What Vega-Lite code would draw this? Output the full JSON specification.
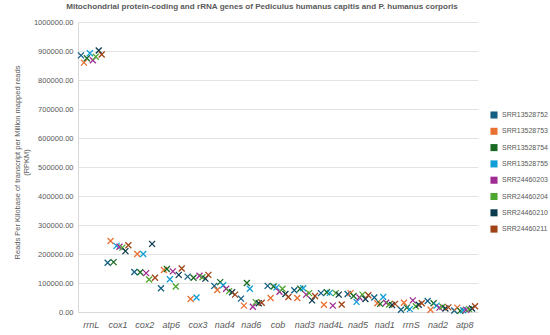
{
  "$schema": "https://vega.github.io/schema/vega-lite/v6.json",
  "autosize": "none",
  "width": 400,
  "height": 290,
  "padding": {"left": 78, "top": 22, "right": 72, "bottom": 23},
  "background": "white",
  "title": {
    "text": "Mitochondrial protein-coding and rRNA genes of Pediculus humanus capitis and P. humanus corporis",
    "font": "Liberation Sans",
    "fontSize": 8.1,
    "fontWeight": "bold",
    "color": "#595959",
    "anchor": "middle",
    "dx": -16,
    "offset": 7
  },
  "config": {
    "view": {"stroke": null},
    "font": "Liberation Sans"
  },
  "data": {
    "values": [
      {"gene": "rrnL", "series": "SRR13528752", "rpkm": 885000},
      {"gene": "rrnL", "series": "SRR13528753", "rpkm": 860000},
      {"gene": "rrnL", "series": "SRR13528754", "rpkm": 875000},
      {"gene": "rrnL", "series": "SRR13528755", "rpkm": 892000},
      {"gene": "rrnL", "series": "SRR24460203", "rpkm": 868000},
      {"gene": "rrnL", "series": "SRR24460204", "rpkm": 880000},
      {"gene": "rrnL", "series": "SRR24460210", "rpkm": 902000},
      {"gene": "rrnL", "series": "SRR24460211", "rpkm": 888000},
      {"gene": "cox1", "series": "SRR13528752", "rpkm": 170000},
      {"gene": "cox1", "series": "SRR13528753", "rpkm": 245000},
      {"gene": "cox1", "series": "SRR13528754", "rpkm": 172000},
      {"gene": "cox1", "series": "SRR13528755", "rpkm": 228000},
      {"gene": "cox1", "series": "SRR24460203", "rpkm": 225000},
      {"gene": "cox1", "series": "SRR24460204", "rpkm": 222000},
      {"gene": "cox1", "series": "SRR24460210", "rpkm": 210000},
      {"gene": "cox1", "series": "SRR24460211", "rpkm": 230000},
      {"gene": "cox2", "series": "SRR13528752", "rpkm": 138000},
      {"gene": "cox2", "series": "SRR13528753", "rpkm": 200000},
      {"gene": "cox2", "series": "SRR13528754", "rpkm": 137000},
      {"gene": "cox2", "series": "SRR13528755", "rpkm": 200000},
      {"gene": "cox2", "series": "SRR24460203", "rpkm": 134000},
      {"gene": "cox2", "series": "SRR24460204", "rpkm": 112000},
      {"gene": "cox2", "series": "SRR24460210", "rpkm": 235000},
      {"gene": "cox2", "series": "SRR24460211", "rpkm": 118000},
      {"gene": "atp6", "series": "SRR13528752", "rpkm": 82000},
      {"gene": "atp6", "series": "SRR13528753", "rpkm": 145000},
      {"gene": "atp6", "series": "SRR13528754", "rpkm": 148000},
      {"gene": "atp6", "series": "SRR13528755", "rpkm": 113000},
      {"gene": "atp6", "series": "SRR24460203", "rpkm": 140000},
      {"gene": "atp6", "series": "SRR24460204", "rpkm": 88000},
      {"gene": "atp6", "series": "SRR24460210", "rpkm": 128000},
      {"gene": "atp6", "series": "SRR24460211", "rpkm": 150000},
      {"gene": "cox3", "series": "SRR13528752", "rpkm": 122000},
      {"gene": "cox3", "series": "SRR13528753", "rpkm": 45000},
      {"gene": "cox3", "series": "SRR13528754", "rpkm": 118000},
      {"gene": "cox3", "series": "SRR13528755", "rpkm": 50000},
      {"gene": "cox3", "series": "SRR24460203", "rpkm": 125000},
      {"gene": "cox3", "series": "SRR24460204", "rpkm": 120000},
      {"gene": "cox3", "series": "SRR24460210", "rpkm": 115000},
      {"gene": "cox3", "series": "SRR24460211", "rpkm": 128000},
      {"gene": "nad4", "series": "SRR13528752", "rpkm": 90000},
      {"gene": "nad4", "series": "SRR13528753", "rpkm": 76000},
      {"gene": "nad4", "series": "SRR13528754", "rpkm": 103000},
      {"gene": "nad4", "series": "SRR13528755", "rpkm": 92000},
      {"gene": "nad4", "series": "SRR24460203", "rpkm": 80000},
      {"gene": "nad4", "series": "SRR24460204", "rpkm": 72000},
      {"gene": "nad4", "series": "SRR24460210", "rpkm": 68000},
      {"gene": "nad4", "series": "SRR24460211", "rpkm": 60000},
      {"gene": "nad6", "series": "SRR13528752", "rpkm": 46000},
      {"gene": "nad6", "series": "SRR13528753", "rpkm": 22000},
      {"gene": "nad6", "series": "SRR13528754", "rpkm": 100000},
      {"gene": "nad6", "series": "SRR13528755", "rpkm": 80000},
      {"gene": "nad6", "series": "SRR24460203", "rpkm": 18000},
      {"gene": "nad6", "series": "SRR24460204", "rpkm": 34000},
      {"gene": "nad6", "series": "SRR24460210", "rpkm": 30000},
      {"gene": "nad6", "series": "SRR24460211", "rpkm": 32000},
      {"gene": "cob", "series": "SRR13528752", "rpkm": 90000},
      {"gene": "cob", "series": "SRR13528753", "rpkm": 48000},
      {"gene": "cob", "series": "SRR13528754", "rpkm": 88000},
      {"gene": "cob", "series": "SRR13528755", "rpkm": 85000},
      {"gene": "cob", "series": "SRR24460203", "rpkm": 70000},
      {"gene": "cob", "series": "SRR24460204", "rpkm": 80000},
      {"gene": "cob", "series": "SRR24460210", "rpkm": 62000},
      {"gene": "cob", "series": "SRR24460211", "rpkm": 52000},
      {"gene": "nad3", "series": "SRR13528752", "rpkm": 75000},
      {"gene": "nad3", "series": "SRR13528753", "rpkm": 48000},
      {"gene": "nad3", "series": "SRR13528754", "rpkm": 80000},
      {"gene": "nad3", "series": "SRR13528755", "rpkm": 82000},
      {"gene": "nad3", "series": "SRR24460203", "rpkm": 60000},
      {"gene": "nad3", "series": "SRR24460204", "rpkm": 65000},
      {"gene": "nad3", "series": "SRR24460210", "rpkm": 40000},
      {"gene": "nad3", "series": "SRR24460211", "rpkm": 55000},
      {"gene": "nad4L", "series": "SRR13528752", "rpkm": 65000},
      {"gene": "nad4L", "series": "SRR13528753", "rpkm": 25000},
      {"gene": "nad4L", "series": "SRR13528754", "rpkm": 68000},
      {"gene": "nad4L", "series": "SRR13528755", "rpkm": 66000},
      {"gene": "nad4L", "series": "SRR24460203", "rpkm": 22000},
      {"gene": "nad4L", "series": "SRR24460204", "rpkm": 65000},
      {"gene": "nad4L", "series": "SRR24460210", "rpkm": 60000},
      {"gene": "nad4L", "series": "SRR24460211", "rpkm": 26000},
      {"gene": "nad5", "series": "SRR13528752", "rpkm": 62000},
      {"gene": "nad5", "series": "SRR13528753", "rpkm": 65000},
      {"gene": "nad5", "series": "SRR13528754", "rpkm": 55000},
      {"gene": "nad5", "series": "SRR13528755", "rpkm": 35000},
      {"gene": "nad5", "series": "SRR24460203", "rpkm": 50000},
      {"gene": "nad5", "series": "SRR24460204", "rpkm": 60000},
      {"gene": "nad5", "series": "SRR24460210", "rpkm": 45000},
      {"gene": "nad5", "series": "SRR24460211", "rpkm": 58000},
      {"gene": "nad1", "series": "SRR13528752", "rpkm": 50000},
      {"gene": "nad1", "series": "SRR13528753", "rpkm": 30000},
      {"gene": "nad1", "series": "SRR13528754", "rpkm": 28000},
      {"gene": "nad1", "series": "SRR13528755", "rpkm": 52000},
      {"gene": "nad1", "series": "SRR24460203", "rpkm": 32000},
      {"gene": "nad1", "series": "SRR24460204", "rpkm": 26000},
      {"gene": "nad1", "series": "SRR24460210", "rpkm": 24000},
      {"gene": "nad1", "series": "SRR24460211", "rpkm": 28000},
      {"gene": "rrnS", "series": "SRR13528752", "rpkm": 8000},
      {"gene": "rrnS", "series": "SRR13528753", "rpkm": 32000},
      {"gene": "rrnS", "series": "SRR13528754", "rpkm": 15000},
      {"gene": "rrnS", "series": "SRR13528755", "rpkm": 10000},
      {"gene": "rrnS", "series": "SRR24460203", "rpkm": 40000},
      {"gene": "rrnS", "series": "SRR24460204", "rpkm": 20000},
      {"gene": "rrnS", "series": "SRR24460210", "rpkm": 25000},
      {"gene": "rrnS", "series": "SRR24460211", "rpkm": 30000},
      {"gene": "nad2", "series": "SRR13528752", "rpkm": 38000},
      {"gene": "nad2", "series": "SRR13528753", "rpkm": 8000},
      {"gene": "nad2", "series": "SRR13528754", "rpkm": 30000},
      {"gene": "nad2", "series": "SRR13528755", "rpkm": 22000},
      {"gene": "nad2", "series": "SRR24460203", "rpkm": 15000},
      {"gene": "nad2", "series": "SRR24460204", "rpkm": 18000},
      {"gene": "nad2", "series": "SRR24460210", "rpkm": 12000},
      {"gene": "nad2", "series": "SRR24460211", "rpkm": 16000},
      {"gene": "atp8", "series": "SRR13528752", "rpkm": 5000},
      {"gene": "atp8", "series": "SRR13528753", "rpkm": 15000},
      {"gene": "atp8", "series": "SRR13528754", "rpkm": 4000},
      {"gene": "atp8", "series": "SRR13528755", "rpkm": 6000},
      {"gene": "atp8", "series": "SRR24460203", "rpkm": 8000},
      {"gene": "atp8", "series": "SRR24460204", "rpkm": 10000},
      {"gene": "atp8", "series": "SRR24460210", "rpkm": 12000},
      {"gene": "atp8", "series": "SRR24460211", "rpkm": 20000}
    ]
  },
  "mark": {
    "type": "point",
    "shape": "M-1,-1L1,1M-1,1L1,-1",
    "filled": true,
    "size": 36,
    "strokeWidth": 1.3,
    "opacity": 1
  },
  "encoding": {
    "x": {
      "field": "gene",
      "type": "nominal",
      "sort": ["rrnL", "cox1", "cox2", "atp6", "cox3", "nad4", "nad6", "cob", "nad3", "nad4L", "nad5", "nad1", "rrnS", "nad2", "atp8"],
      "scale": {"paddingInner": 0, "paddingOuter": 0},
      "axis": {
        "title": null,
        "labelAngle": 0,
        "labelFontStyle": "italic",
        "labelFontSize": 9,
        "labelColor": "#595959",
        "labelPadding": 8,
        "ticks": false,
        "domainColor": "#d9d9d9",
        "grid": false
      }
    },
    "xOffset": {
      "field": "series",
      "type": "nominal",
      "scale": {"paddingOuter": 3, "paddingInner": 0}
    },
    "y": {
      "field": "rpkm",
      "type": "quantitative",
      "scale": {"domain": [0, 1000000], "nice": false, "zero": true},
      "axis": {
        "title": ["Reads Per Kilobase of transcript per Million mapped reads", "(RPKM)"],
        "titleFontSize": 7.5,
        "titleFontWeight": "normal",
        "titleColor": "#595959",
        "titleX": -61,
        "titleY": 140,
        "titleBaseline": "middle",
        "titleAlign": "center",
        "titleAngle": -90,
        "titleLineHeight": 9,
        "tickCount": 10,
        "format": ".2f",
        "labelFontSize": 7.5,
        "labelColor": "#595959",
        "labelPadding": 5,
        "labelOverlap": false,
        "ticks": false,
        "domainColor": "#d9d9d9",
        "gridColor": "#e3e3e3"
      }
    },
    "fill": {
      "field": "series",
      "type": "nominal",
      "scale": {
        "domain": ["SRR13528752", "SRR13528753", "SRR13528754", "SRR13528755", "SRR24460203", "SRR24460204", "SRR24460210", "SRR24460211"],
        "range": ["#156082", "#E97132", "#196B24", "#0F9ED5", "#A02B93", "#4EA72E", "#0C3A4E", "#A04418"]
      },
      "legend": {
        "title": null,
        "orient": "none",
        "legendX": 412,
        "legendY": 89,
        "symbolType": "square",
        "symbolSize": 50,
        "symbolStrokeWidth": 0,
        "labelFontSize": 7,
        "labelColor": "#595959",
        "rowPadding": 8.3,
        "labelOffset": 4
      }
    },
    "stroke": {
      "field": "series",
      "type": "nominal",
      "scale": {
        "domain": ["SRR13528752", "SRR13528753", "SRR13528754", "SRR13528755", "SRR24460203", "SRR24460204", "SRR24460210", "SRR24460211"],
        "range": ["#156082", "#E97132", "#196B24", "#0F9ED5", "#A02B93", "#4EA72E", "#0C3A4E", "#A04418"]
      },
      "legend": {
        "title": null,
        "orient": "none",
        "legendX": 412,
        "legendY": 89,
        "symbolType": "square",
        "symbolSize": 50,
        "symbolStrokeWidth": 0,
        "labelFontSize": 7,
        "labelColor": "#595959",
        "rowPadding": 8.3,
        "labelOffset": 4
      }
    }
  }
}
